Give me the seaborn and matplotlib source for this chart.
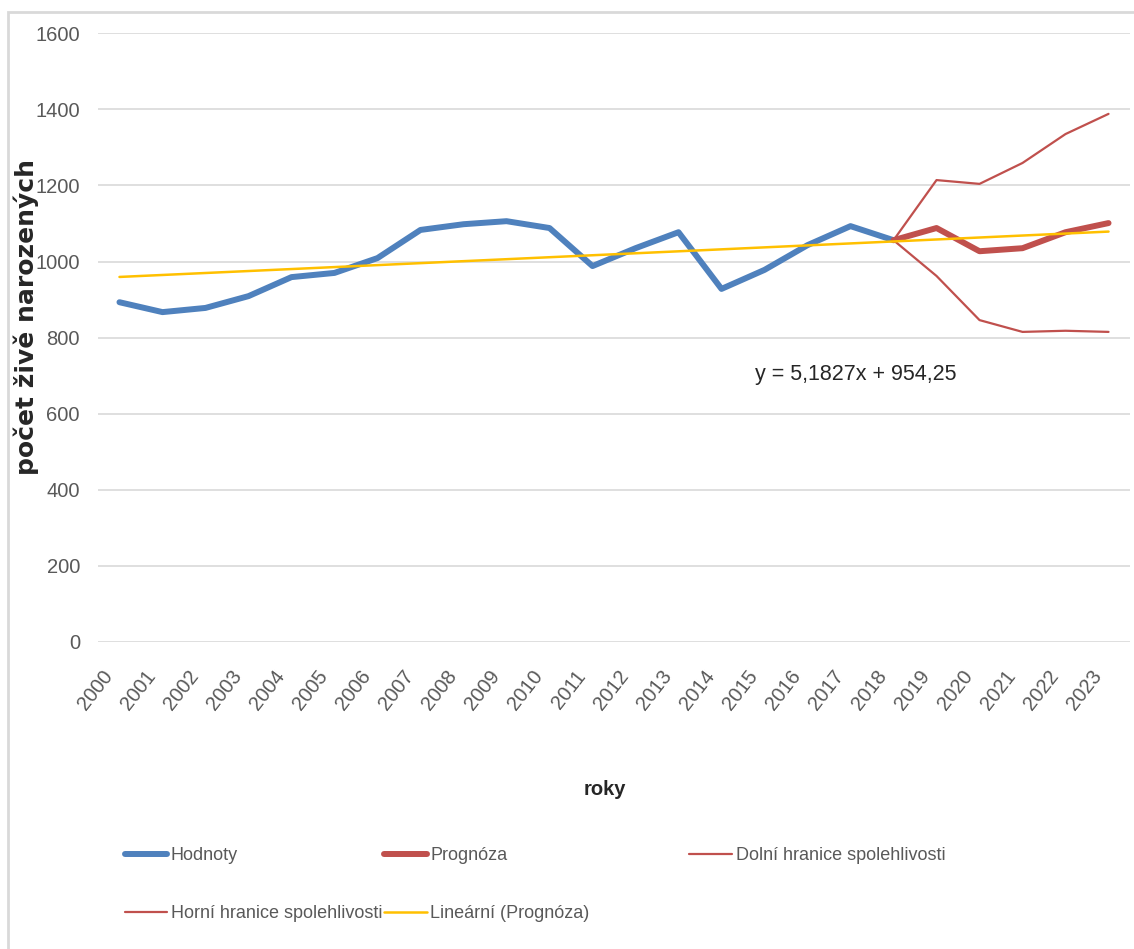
import numpy as np
import pandas as pd
import matplotlib
matplotlib.use("Agg")
import matplotlib.pyplot as plt
import matplotlib.transforms as mtransforms
import seaborn as sns
from matplotlib.lines import Line2D
from matplotlib.patches import Rectangle

sns.set_style("white")
plt.rcParams["font.family"] = ["Liberation Sans", "DejaVu Sans"]

# ---------------------------------------------------------------
# data
# ---------------------------------------------------------------
years = list(range(2000, 2024))
hodnoty = [893, 867, 878, 909, 959, 970, 1009, 1083, 1098, 1106, 1088, 988,
           1035, 1077, 928, 978, 1043, 1093, 1056]
prognoza_years = [2018, 2019, 2020, 2021, 2022, 2023]
prognoza = [1056, 1088, 1027, 1035, 1077, 1101]
dolni = [1056, 962, 846, 815, 818, 815]
horni = [1056, 1214, 1204, 1259, 1335, 1388]
# trend line as printed on the chart
trend_slope = 5.1827
trend_intercept = 954.25

blue = "#4F81BD"
red = "#C0504D"
gold = "#FFC000"
grey_txt = "#595959"

hist = pd.DataFrame({"idx": range(len(hodnoty)), "val": hodnoty})
fc = pd.DataFrame({"idx": [years.index(y) for y in prognoza_years],
                   "prog": prognoza, "low": dolni, "high": horni})
trend_x = np.arange(len(years))
trend = pd.DataFrame({"idx": trend_x, "val": trend_slope * (trend_x + 1) + trend_intercept})

fig = plt.figure(figsize=(11.34, 9.49), dpi=100)
ax = fig.add_axes([0.0864, 0.3235, 0.9101, 0.6415])

sns.lineplot(data=hist, x="idx", y="val", color=blue, lw=4.3, ax=ax)
sns.lineplot(data=fc, x="idx", y="prog", color=red, lw=4.3, ax=ax)
sns.lineplot(data=fc, x="idx", y="low", color=red, lw=1.6, ax=ax)
sns.lineplot(data=fc, x="idx", y="high", color=red, lw=1.6, ax=ax)
sns.lineplot(data=trend, x="idx", y="val", color=gold, lw=1.8, ax=ax)

ax.set_xlim(-0.5, len(years) - 0.5)
ax.set_ylim(0, 1600)
ax.set_yticks(range(0, 1601, 200))
ax.yaxis.grid(True, color="#D9D9D9", lw=1.2)
ax.set_axisbelow(True)
for s in ax.spines.values():
    s.set_visible(False)
ax.tick_params(length=0, labelsize=14.5, colors=grey_txt)
ax.tick_params(axis="y", pad=13)
ax.set_xticks(range(len(years)))
ax.set_xticklabels(years, rotation=52, ha="right", va="top", rotation_mode="anchor")
ax.tick_params(axis="x", pad=18)
shift = mtransforms.ScaledTranslation(-0.18, 0, fig.dpi_scale_trans)
for lbl in ax.get_xticklabels():
    lbl.set_transform(lbl.get_transform() + shift)

ax.set_ylabel("")
ax.set_xlabel("")
fig.text(0.023, 0.666, "počet živě narozených", rotation=90, ha="center", va="center",
         fontsize=18, fontweight="bold", family="DejaVu Sans")
fig.text(0.5335, 0.1676, "roky", ha="center", va="center", fontsize=14.5, fontweight="bold")
fig.text(0.666, 0.605, "y = 5,1827x + 954,25", ha="left", va="center", fontsize=15.5,
         color="#262626")

# legend laid out in three columns like the original
columns = [
    (0.110, [(blue, 4.3, "Hodnoty"), (red, 1.6, "Horní hranice spolehlivosti")]),
    (0.339, [(red, 4.3, "Prognóza"), (gold, 1.8, "Lineární (Prognóza)")]),
    (0.608, [(red, 1.6, "Dolní hranice spolehlivosti")]),
]
for x0, items in columns:
    handles = [Line2D([], [], color=c, lw=w) for c, w, _ in items]
    labels = [t for _, _, t in items]
    leg = fig.legend(handles, labels, loc="upper left", bbox_to_anchor=(x0, 0.107),
                     frameon=False, fontsize=13, handlelength=2.35, handletextpad=0.2,
                     labelspacing=2.25, borderpad=0, borderaxespad=0)
    for t in leg.get_texts():
        t.set_color(grey_txt)

fig.patches.append(Rectangle((0.007, -0.01), 1.0, 0.997, transform=fig.transFigure,
                             fill=False, edgecolor="#D9D9D9", lw=2))

fig.savefig("out.png", dpi=100)
